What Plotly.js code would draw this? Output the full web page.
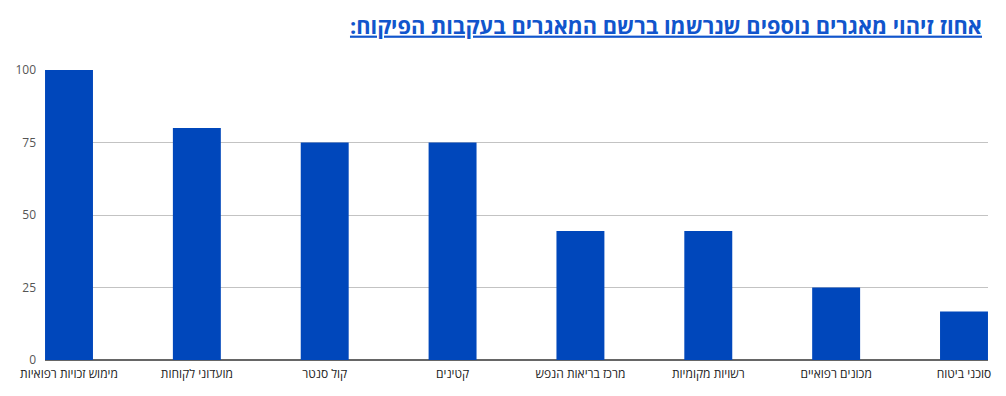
<!DOCTYPE html>
<html>
<head>
<meta charset="utf-8">
<script src="https://cdn.plot.ly/plotly-3.0.1.min.js"></script>
<style>html,body{margin:0;padding:0;background:#fff;}#chart{width:1006px;height:396px;}</style>
</head>
<body>
<div id="chart"></div>
<script>
const categories = ["מימוש זכויות רפואיות", "מועדוני לקוחות", "קול סנטר", "קטינים", "מרכז בריאות הנפש", "רשויות מקומיות", "מכונים רפואיים", "סוכני ביטוח"];
const values = [100, 80, 75, 75, 44.5, 44.5, 25, 16.7];
const yTicks = [0, 25, 50, 75, 100];
const titleText = "אחוז זיהוי מאגרים נוספים שנרשמו ברשם המאגרים בעקבות הפיקוח:";

const trace = {
  type: "bar",
  x: categories.map((c, i) => i),
  y: values,
  marker: {color: "#0047BB"},
  hoverinfo: "none"
};

const layout = {
  width: 1006, height: 396,
  margin: {l: 45, r: 18, t: 70, b: 36},
  paper_bgcolor: "#fff", plot_bgcolor: "#fff",
  bargap: 0.625,
  showlegend: false,
  title: {
    text: "<u>\u200F" + titleText + "\u200F</u>",
    font: {family: "Open Sans", size: 21.8, color: "#1155cc", weight: "bold"},
    x: 982 / 1006, xref: "container", xanchor: "right",
    y: 1 - 26 / 396, yref: "container", yanchor: "middle"
  },
  xaxis: {
    range: [-0.1877, 7.1877],
    tickmode: "array",
    tickvals: categories.map((c, i) => i),
    ticktext: categories,
    showgrid: false,
    zeroline: false,
    showline: false,
    ticks: "",
    ticklabelstandoff: 5,
    tickfont: {family: "Open Sans", size: 12, color: "#222"},
    fixedrange: true
  },
  yaxis: {
    range: [0, 100],
    tickmode: "array",
    tickvals: yTicks,
    ticktext: yTicks.map(String),
    showgrid: true,
    gridcolor: "#c3c3c3",
    gridwidth: 1,
    zeroline: true,
    zerolinecolor: "#666",
    zerolinewidth: 1.5,
    ticks: "",
    ticklabelstandoff: 8,
    tickfont: {family: "Open Sans", size: 12, color: "#555"},
    fixedrange: true
  }
};

Plotly.newPlot("chart", [trace], layout, {displayModeBar: false, staticPlot: true});
</script>
</body>
</html>
